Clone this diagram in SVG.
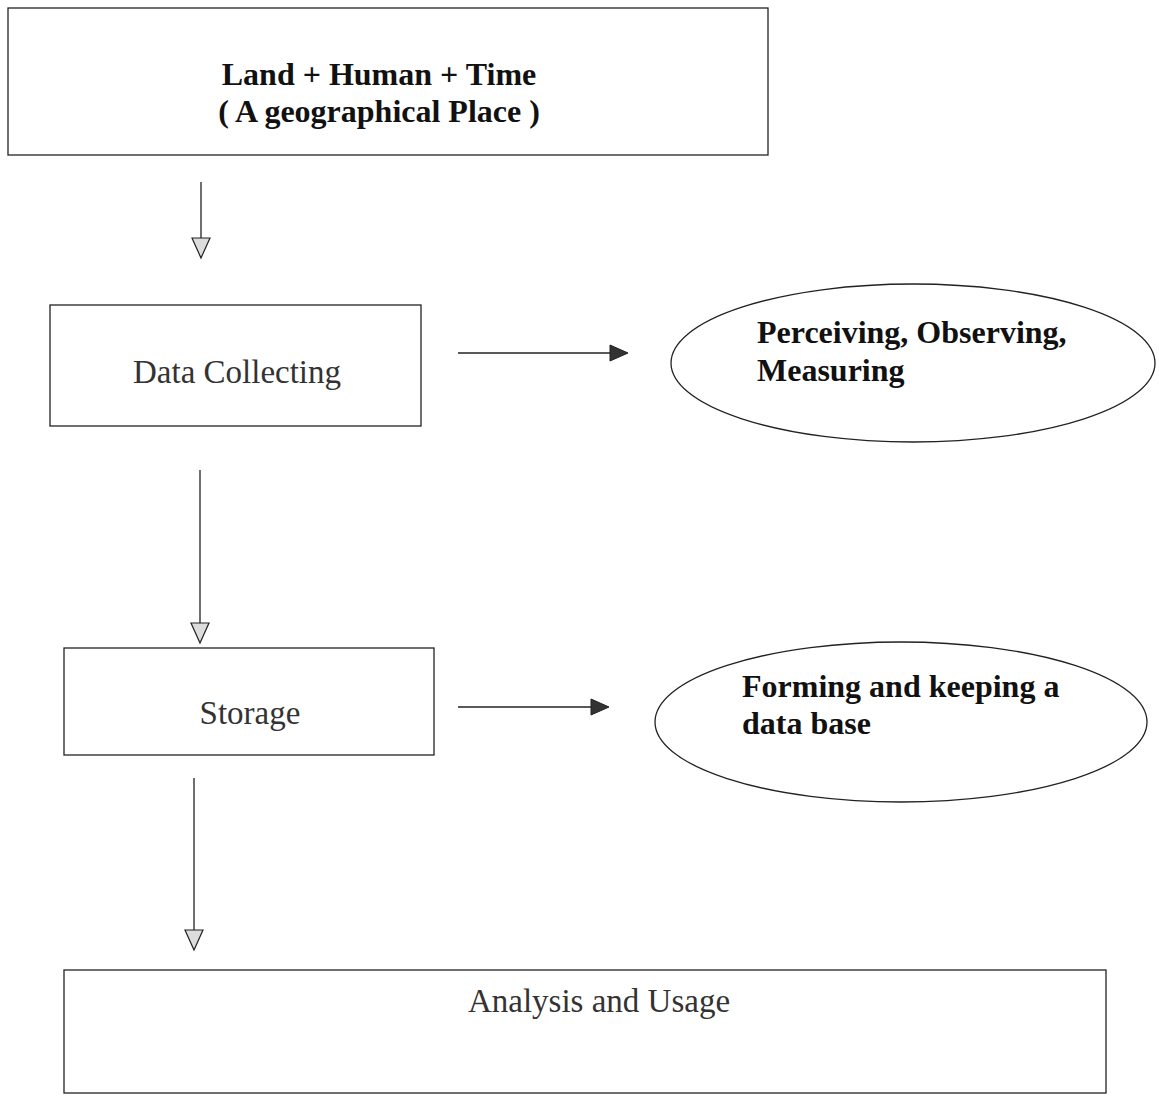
<svg xmlns="http://www.w3.org/2000/svg" width="1159" height="1099" viewBox="0 0 1159 1099">
<style>
.box{fill:#fff;stroke:#222;stroke-width:1.3}
.ell{fill:#fff;stroke:#222;stroke-width:1.3}
.ln{stroke:#222;stroke-width:1.3;fill:none}
.t{font-family:"Liberation Serif",serif;fill:#111}
.b{font-weight:bold;font-size:32px}
.r{fill:#333;font-size:33px}
</style>
<rect width="1159" height="1099" fill="#fff"/>
<g id="connectors">
<line class="ln" x1="201" y1="182" x2="201" y2="240"/>
<path d="M192,238 L210,238 L201,258 Z" fill="#ddd" stroke="#222" stroke-width="1.2"/>
<line class="ln" x1="458" y1="353" x2="610" y2="353"/>
<path d="M610,345 L628,353 L610,361 Z" fill="#333" stroke="#222" stroke-width="1"/>
<line class="ln" x1="200" y1="470" x2="200" y2="625"/>
<path d="M191,623 L209,623 L200,643 Z" fill="#ddd" stroke="#222" stroke-width="1.2"/>
<line class="ln" x1="458" y1="707" x2="592" y2="707"/>
<path d="M591,699 L609,707 L591,715 Z" fill="#333" stroke="#222" stroke-width="1"/>
<line class="ln" x1="194" y1="778" x2="194" y2="932"/>
<path d="M185,930 L203,930 L194,950 Z" fill="#ddd" stroke="#222" stroke-width="1.2"/>
</g>
<g id="node-place">
<rect class="box" x="8" y="8" width="760" height="147"/>
<text class="t b" x="379" y="85" text-anchor="middle">Land + Human + Time</text>
<text class="t b" x="379" y="122" text-anchor="middle">( A geographical Place )</text>
</g>
<g id="node-data-collecting">
<rect class="box" x="50" y="305" width="371" height="121"/>
<text class="t r" x="237" y="383" text-anchor="middle">Data Collecting</text>
</g>
<g id="node-perceiving">
<ellipse class="ell" cx="913" cy="363" rx="242" ry="79"/>
<text class="t b" x="757" y="343">Perceiving, Observing,</text>
<text class="t b" x="757" y="381">Measuring</text>
</g>
<g id="node-storage">
<rect class="box" x="64" y="648" width="370" height="107"/>
<text class="t r" x="250" y="724" text-anchor="middle">Storage</text>
</g>
<g id="node-database">
<ellipse class="ell" cx="901" cy="722" rx="246" ry="80"/>
<text class="t b" x="742" y="697">Forming and keeping a</text>
<text class="t b" x="742" y="734">data base</text>
</g>
<g id="node-analysis">
<rect class="box" x="64" y="970" width="1042" height="123"/>
<text class="t r" x="599" y="1012" text-anchor="middle">Analysis and Usage</text>
</g>
</svg>
